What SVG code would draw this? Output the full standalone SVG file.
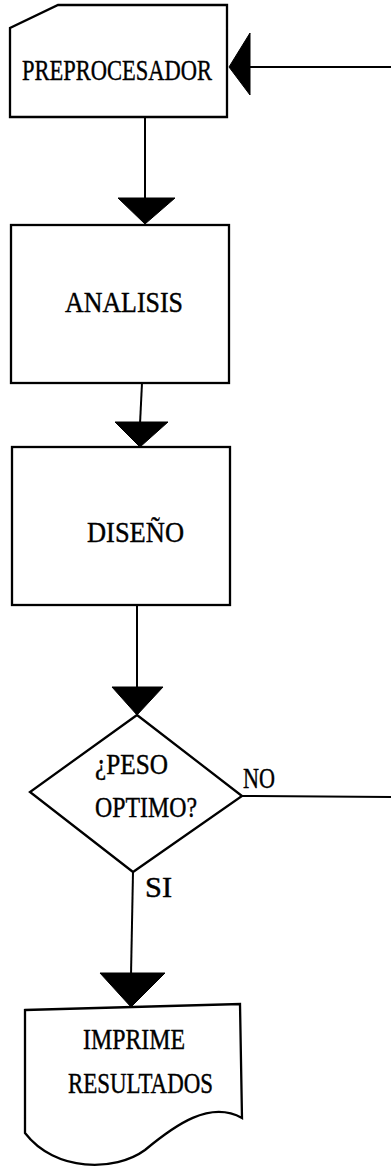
<svg xmlns="http://www.w3.org/2000/svg" width="391" height="1166" viewBox="0 0 391 1166">
<style>
.shape{fill:#fff;stroke:#000;stroke-width:2.3;stroke-linejoin:miter}
.line{fill:none;stroke:#000;stroke-width:2}
.head{fill:#000;stroke:#000;stroke-width:1;stroke-linejoin:round}
.t{font-family:"Liberation Serif","Times New Roman",serif;font-size:29px;fill:#000;stroke:#000;stroke-width:0.4}
</style>
<rect width="391" height="1166" fill="#fff"/>
<g id="node-preprocesador">
<path class="shape" d="M10,117 L10,28 L58,5 L227,5 L227,117 Z"/>
<text class="t" x="22" y="80" textLength="190" lengthAdjust="spacingAndGlyphs">PREPROCESADOR</text>
</g>
<g id="node-analisis">
<rect class="shape" x="11" y="225" width="218" height="158"/>
<text class="t" x="65" y="312" textLength="118" lengthAdjust="spacingAndGlyphs">ANALISIS</text>
</g>
<g id="node-diseno">
<rect class="shape" x="12" y="447" width="218" height="158"/>
<text class="t" x="87" y="542" textLength="97" lengthAdjust="spacingAndGlyphs">DISEÑO</text>
</g>
<g id="node-decision">
<path class="shape" d="M137,715 L242,796 L133,872 L30,792 Z"/>
<text class="t" x="95" y="774" textLength="73" lengthAdjust="spacingAndGlyphs">¿PESO</text>
<text class="t" x="95" y="817" textLength="102" lengthAdjust="spacingAndGlyphs">OPTIMO?</text>
</g>
<g id="node-imprime">
<path class="shape" d="M25,1010 L240,1004 L242,1118 C210,1100 175,1125 145,1150 C115,1172 55,1172 25,1133 Z"/>
<text class="t" x="83" y="1049" textLength="102" lengthAdjust="spacingAndGlyphs">IMPRIME</text>
<text class="t" x="68" y="1093" textLength="145" lengthAdjust="spacingAndGlyphs">RESULTADOS</text>
</g>
<g id="connectors">
<path class="line" d="M145,117 L145,200"/>
<polygon class="head" points="118,198 175,198 145,224"/>
<path class="line" d="M142,383 L140,424"/>
<polygon class="head" points="115,422 168,422 140,447"/>
<path class="line" d="M137,605 L137,689"/>
<polygon class="head" points="112,687 163,687 137,715"/>
<path class="line" d="M133,872 L131,975"/>
<polygon class="head" points="100,973 165,973 131,1007"/>
<path class="line" d="M242,796 L391,797"/>
<path class="line" d="M391,67 L248,67"/>
<polygon class="head" points="250,33 250,95 229,67"/>
<text class="t" x="243" y="788" textLength="32" lengthAdjust="spacingAndGlyphs">NO</text>
<text class="t" x="145" y="897" textLength="27" lengthAdjust="spacingAndGlyphs">SI</text>
</g>
</svg>
